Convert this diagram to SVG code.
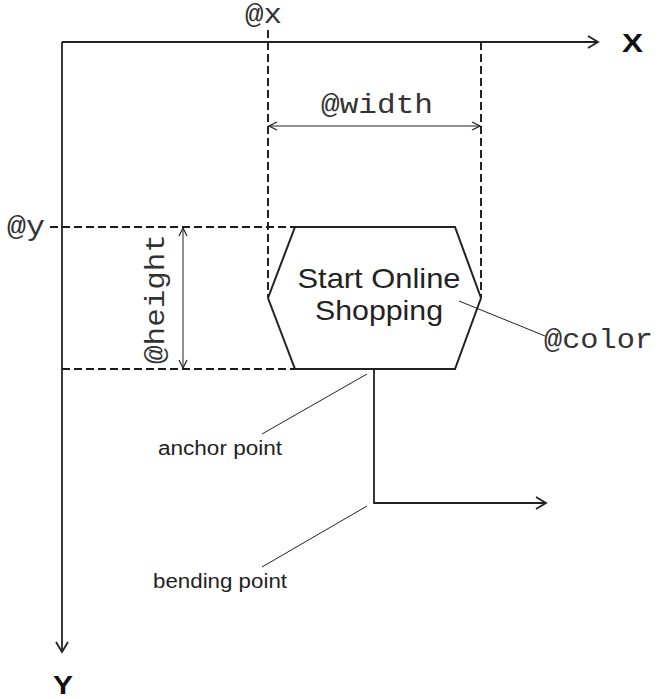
<svg xmlns="http://www.w3.org/2000/svg" width="659" height="699" viewBox="0 0 659 699">
<defs>
<marker id="open" viewBox="0 0 10 10" refX="9" refY="5" markerWidth="10" markerHeight="10" markerUnits="userSpaceOnUse" orient="auto-start-reverse">
<path d="M1,1 L9,5 L1,9" fill="none" stroke="#222" stroke-width="1.2"/>
</marker>
<marker id="big" viewBox="0 0 14 14" refX="12" refY="7" markerWidth="14" markerHeight="14" markerUnits="userSpaceOnUse" orient="auto">
<path d="M2,1 L12,7 L2,13" fill="none" stroke="#222" stroke-width="1.8"/>
</marker>
<style>
.axis{stroke:#222;stroke-width:1.8;fill:none}
.dash{stroke:#1a1a1a;stroke-width:1.9;fill:none;stroke-dasharray:8,4}
.dim{stroke:#222;stroke-width:1;fill:none}
.lead{stroke:#222;stroke-width:1;fill:none}
.mono{font-family:"Liberation Mono","Courier New",monospace;font-size:28px;fill:#333}
.sans{font-family:"Liberation Sans",Arial,sans-serif;fill:#222}
.bold{font-family:"Liberation Sans",Arial,sans-serif;font-weight:bold;font-size:26px;fill:#111}
</style>
</defs>
<g id="axes">
<line class="axis" x1="62" y1="42" x2="598" y2="42" marker-end="url(#big)"/>
<line class="axis" x1="62" y1="42" x2="62" y2="652" marker-end="url(#big)"/>
<text class="bold" x="622" y="52" textLength="21" lengthAdjust="spacingAndGlyphs">X</text>
<text class="bold" x="53" y="694" textLength="20" lengthAdjust="spacingAndGlyphs">Y</text>
</g>
<g id="guides">
<line class="dash" x1="268" y1="30" x2="268" y2="297"/>
<line class="dash" x1="481" y1="42" x2="481" y2="297"/>
<line class="dash" x1="50" y1="227" x2="295" y2="227"/>
<line class="dash" x1="62" y1="369" x2="295" y2="369"/>
<line class="dim" x1="269" y1="126" x2="480" y2="126" marker-start="url(#open)" marker-end="url(#open)"/>
<line class="dim" x1="183" y1="228" x2="183" y2="368" marker-start="url(#open)" marker-end="url(#open)"/>
<text class="mono" x="245" y="23" textLength="37" lengthAdjust="spacingAndGlyphs">@x</text>
<text class="mono" x="321" y="113" textLength="112" lengthAdjust="spacingAndGlyphs">@width</text>
<text class="mono" x="7" y="235" textLength="38" lengthAdjust="spacingAndGlyphs">@y</text>
<text class="mono" transform="translate(164,364) rotate(-90)" x="0" y="0" textLength="130" lengthAdjust="spacingAndGlyphs">@height</text>
<text class="mono" x="544" y="348" textLength="109" lengthAdjust="spacingAndGlyphs">@color</text>
</g>
<g id="node-start">
<polygon points="295,227 455,227 481,298 455,369 295,369 268,298" fill="#fff" stroke="#222" stroke-width="2"/>
<text class="sans" font-size="28" x="379" y="288" text-anchor="middle" textLength="163" lengthAdjust="spacingAndGlyphs">Start Online</text>
<text class="sans" font-size="28" x="379" y="320" text-anchor="middle" textLength="128" lengthAdjust="spacingAndGlyphs">Shopping</text>
</g>
<g id="connectors">
<polyline class="axis" points="374,369 374,503 546,503" marker-end="url(#big)"/>
<line class="lead" x1="459" y1="301" x2="545" y2="336"/>
<line class="lead" x1="367" y1="374" x2="262" y2="434"/>
<line class="lead" x1="367" y1="506" x2="262" y2="567"/>
</g>
<g id="labels">
<text class="sans" font-size="20" x="158" y="455" textLength="124" lengthAdjust="spacingAndGlyphs">anchor point</text>
<text class="sans" font-size="20" x="153" y="588" textLength="134" lengthAdjust="spacingAndGlyphs">bending point</text>
</g>
</svg>
